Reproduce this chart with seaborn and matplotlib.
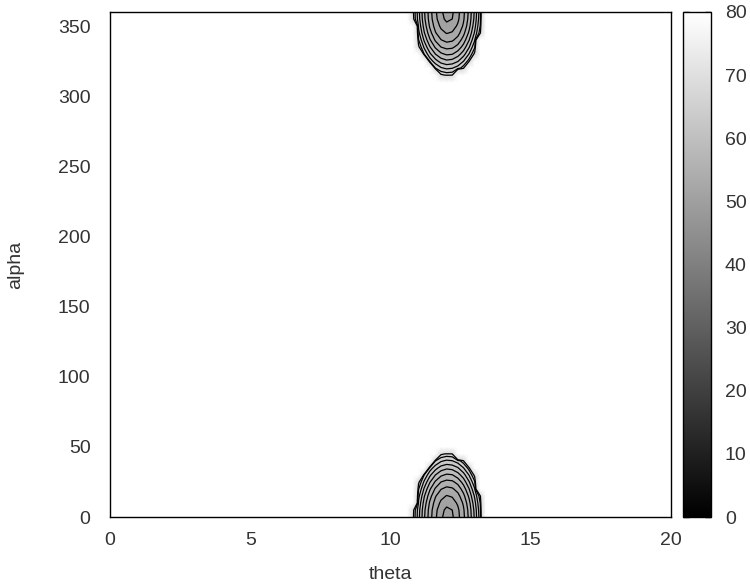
import numpy as np
import matplotlib
matplotlib.use("Agg")
import matplotlib.pyplot as plt
import seaborn as sns

# Datos (mapa theta / alpha)
theta_min, theta_max, theta_step = 0.0, 20.0, 0.2
alpha_min, alpha_max, alpha_step = 0.0, 360.0, 5.0
z_fondo = 80.0

# zona de la mancha: columnas theta, filas alpha (0..45, se repite en 360..315)
theta_mancha = [10.6, 10.8, 11.0, 11.2, 11.4, 11.6, 11.8, 12.0,
                12.2, 12.4, 12.6, 12.8, 13.0, 13.2, 13.4, 13.6]
alpha_mancha = [0, 5, 10, 15, 20, 25, 30, 35, 40, 45]
z_a0 = [80, 68.0, 62.7, 58.3, 54.9, 52.3, 50.7, 50.0, 50.3, 51.4, 53.5, 56.5, 60.4, 65.2, 80, 80]
z_a5 = [80, 68.2, 62.9, 58.5, 55.1, 52.5, 50.9, 50.2, 50.5, 51.6, 53.7, 56.7, 60.6, 65.5, 80, 80]
z_a10 = [80, 80, 63.6, 59.2, 55.7, 53.2, 51.6, 50.9, 51.1, 52.3, 54.3, 57.3, 61.3, 66.1, 80, 80]
z_a15 = [80, 80, 64.6, 60.2, 56.8, 54.2, 52.6, 51.9, 52.2, 53.3, 55.4, 58.4, 62.3, 67.2, 80, 80]
z_a20 = [80, 80, 66.1, 61.7, 58.3, 55.7, 54.1, 53.4, 53.7, 54.8, 56.9, 59.9, 63.8, 80, 80, 80]
z_a25 = [80, 80, 68.0, 63.6, 60.2, 57.7, 56.0, 55.4, 55.6, 56.7, 58.8, 61.8, 65.7, 80, 80, 80]
z_a30 = [80, 80, 80, 66.0, 62.5, 60.0, 58.4, 57.7, 57.9, 59.1, 61.1, 64.1, 68.1, 80, 80, 80]
z_a35 = [80, 80, 80, 80, 65.3, 62.8, 61.1, 60.4, 60.7, 61.8, 63.9, 66.9, 80, 80, 80, 80]
z_a40 = [80, 80, 80, 80, 80, 66.0, 64.3, 63.6, 63.9, 65.0, 67.1, 80, 80, 80, 80, 80]
z_a45 = [80, 80, 80, 80, 80, 80, 67.9, 67.3, 67.5, 80, 80, 80, 80, 80, 80, 80]
filas_mancha = [z_a0, z_a5, z_a10, z_a15, z_a20, z_a25, z_a30, z_a35, z_a40, z_a45]

niveles = [50.5, 52, 54, 56, 58, 60, 62, 64, 66, 67.5]
ticks_x = [0, 5, 10, 15, 20]
ticks_y = [0, 50, 100, 150, 200, 250, 300, 350]
ticks_cb = [0, 10, 20, 30, 40, 50, 60, 70, 80]

# Rejilla completa
theta = np.round(np.arange(theta_min, theta_max + theta_step / 2, theta_step), 4)
alpha = np.arange(alpha_min, alpha_max + alpha_step / 2, alpha_step)
Z = np.full((len(alpha), len(theta)), z_fondo)
j0 = int(round((theta_mancha[0] - theta_min) / theta_step))
for a, fila in zip(alpha_mancha, filas_mancha):
    i_abajo = int(round(a / alpha_step))
    i_arriba = int(round((alpha_max - a) / alpha_step))
    Z[i_abajo, j0:j0 + len(fila)] = fila
    Z[i_arriba, j0:j0 + len(fila)] = fila
T, A = np.meshgrid(theta, alpha)

sns.set_theme(style="white")
plt.rcParams['font.family'] = ['Liberation Sans', 'DejaVu Sans']

fig = plt.figure(figsize=(7.5, 5.88), dpi=100)
ax = fig.add_axes([0.1467, 0.1207, 0.748, 0.8589])
cax = fig.add_axes([0.9107, 0.1207, 0.0373, 0.8589])

malla = ax.pcolormesh(T, A, Z, shading='gouraud', cmap='gray', vmin=0, vmax=80)
ax.contour(T, A, Z, levels=niveles, colors='black', linewidths=0.9)

ax.set_xlim(0, 20)
ax.set_ylim(0, 360)
ax.set_xticks(ticks_x)
ax.set_yticks(ticks_y)
ax.tick_params(axis='x', length=0, pad=11, labelsize=14, labelcolor='#333333')
ax.tick_params(axis='y', length=0, pad=14, labelsize=14, labelcolor='#333333')
ax.set_xlabel('theta', fontsize=14, color='#333333', va='center')
ax.set_ylabel('alpha', fontsize=14, color='#333333', va='center')
ax.xaxis.set_label_coords(0.5, -0.113)
ax.yaxis.set_label_coords(-0.1676, 0.5)
for s in ax.spines.values():
    s.set_color('black')
    s.set_linewidth(1.0)

cb = fig.colorbar(malla, cax=cax, ticks=ticks_cb)
cb.outline.set_edgecolor('black')
cb.outline.set_linewidth(1.0)
cax.tick_params(axis='y', direction='in', left=True, right=True, length=4,
                width=1, color='black', labelsize=14, labelcolor='#333333', pad=10)

plt.savefig('out.png', dpi=100)
plt.close()
